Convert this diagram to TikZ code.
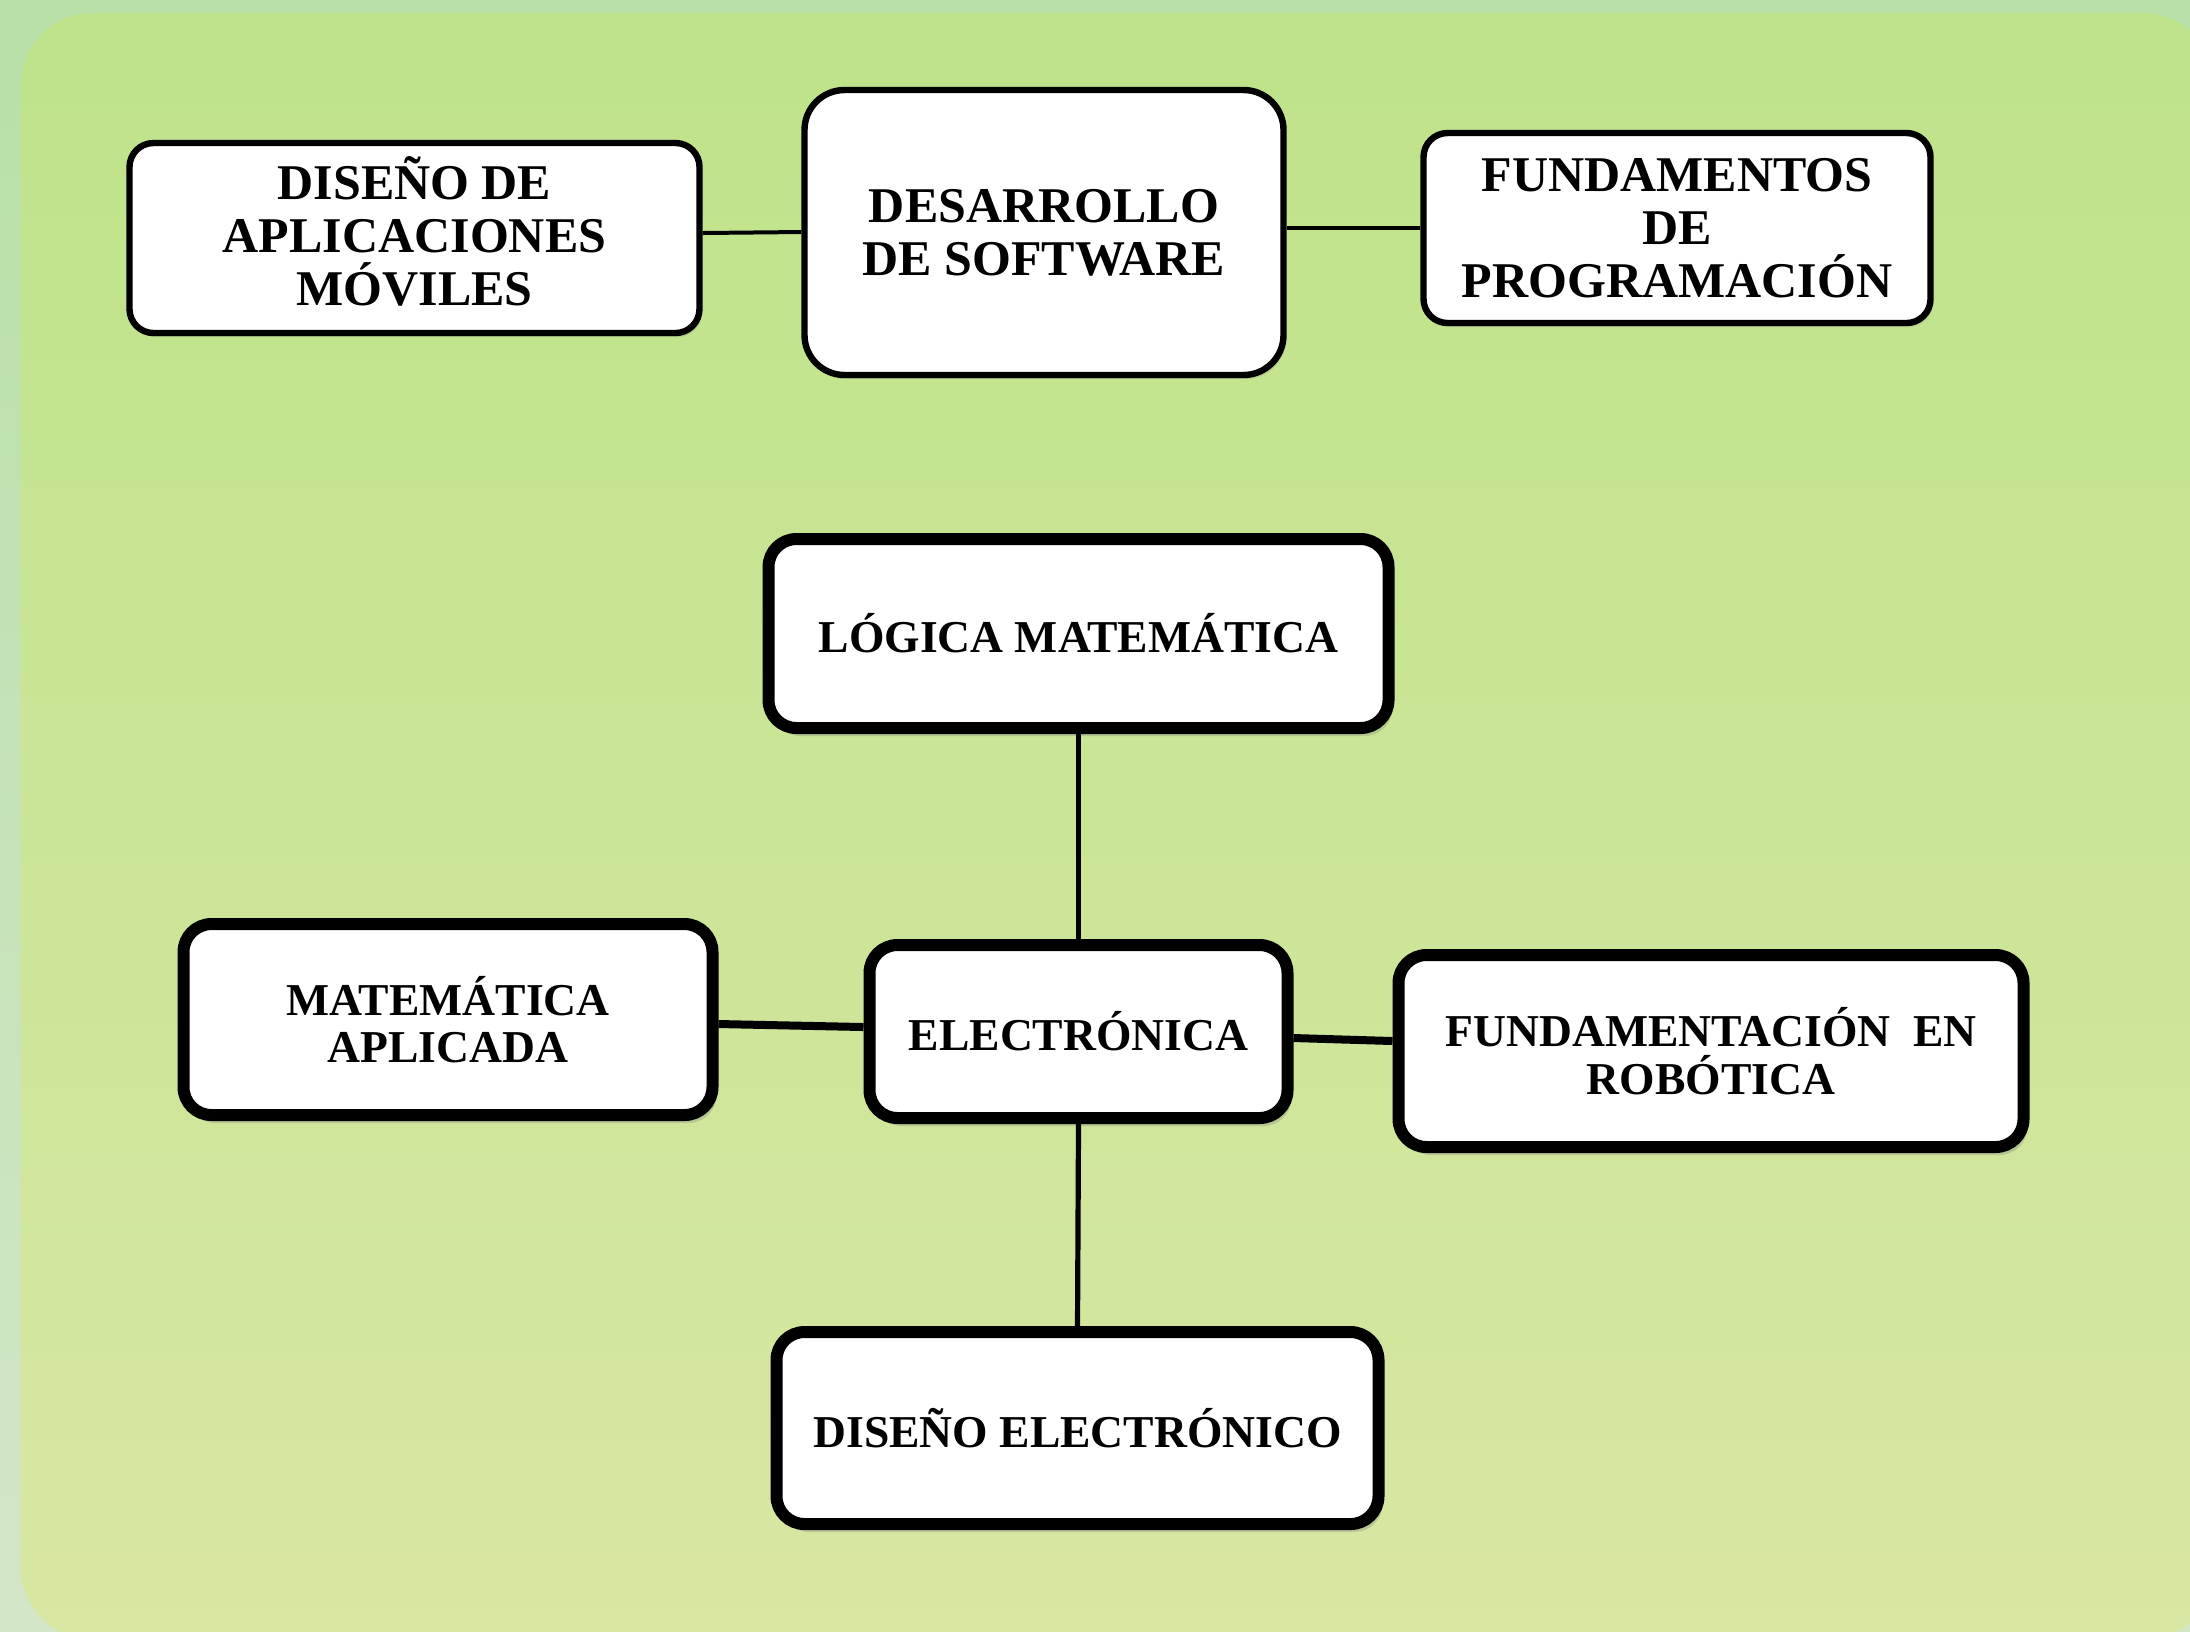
\documentclass[tikz,border=0pt]{standalone}
\usepackage{fontspec}
\setmainfont{Liberation Serif}
\usetikzlibrary{shadows,calc}
\definecolor{outertop}{HTML}{B8E0A8}
\definecolor{outerbot}{HTML}{D3E6C8}
\definecolor{innertop}{HTML}{BEE38A}
\definecolor{innerbot}{HTML}{D8E7A3}
\tikzset{
  topbox/.style={draw=black, fill=white, line width=1.6pt, rounded corners=6pt,
    inner sep=0pt, align=center, font=\fontsize{12.5}{13.3}\selectfont\bfseries,
    drop shadow={shadow xshift=0.6pt, shadow yshift=-1pt, opacity=0.25}},
  botbox/.style={draw=black, fill=white, line width=3pt, rounded corners=7pt,
    inner sep=0pt, align=center, font=\fontsize{11.4}{11.9}\selectfont\bfseries,
    drop shadow={shadow xshift=1pt, shadow yshift=-2pt, opacity=0.3}},
  link/.style={draw=black, line width=1pt},
}
\begin{document}
\begin{tikzpicture}[x=0.25pt, y=-0.25pt]
\useasboundingbox (0,0) rectangle (2190,1631);
\shade[top color=outertop, bottom color=outerbot] (0,0) rectangle (2190,1631);
\begin{scope}
\clip (0,0) rectangle (2190,1631);
\shade[top color=innertop, bottom color=innerbot, rounded corners=18pt] (21,13) rectangle (2215,1640);
\end{scope}

% top row
\node[topbox, text depth=3.4pt, minimum width=142.5pt, minimum height=47.5pt] (dam) at (414.5,238) {DISEÑO DE\\APLICACIONES\\MÓVILES};
\node[topbox, rounded corners=10pt, minimum width=119.75pt, minimum height=71.25pt] (ds) at (1044,232.5) {DESARROLLO\\DE SOFTWARE};
\node[topbox, minimum width=126.75pt, minimum height=47.5pt] (fp) at (1677,228) {FUNDAMENTOS\\DE\\PROGRAMACIÓN};

% bottom group
\node[botbox, minimum width=155pt, minimum height=47.25pt] (lm) at (1078.5,633.5) {LÓGICA MATEMÁTICA};
\node[botbox, minimum width=104.5pt, minimum height=43.25pt] (el) at (1078.5,1031.5) {ELECTRÓNICA};
\node[botbox, minimum width=132.25pt, minimum height=47.75pt] (ma) at (448,1019.5) {MATEMÁTICA\\APLICADA};
\node[botbox, minimum width=156.25pt, minimum height=48pt] (fr) at (1711,1051) {FUNDAMENTACIÓN\ \ EN\\ROBÓTICA};
\node[botbox, minimum width=150.5pt, minimum height=48pt] (de) at (1077.5,1428) {DISEÑO ELECTRÓNICO};

% connectors
\draw[link] (dam.east |- 0,233) -- (ds.west |- 0,232);
\draw[link] (ds.east |- 0,228) -- (fp.west |- 0,228);
\draw[link, line width=1.3pt] (lm.south) -- (el.north);
\draw[link, line width=1.3pt] (el.south) -- (de.north);
\draw[link, line width=2pt] (ma.east |- 0,1024) -- (el.west |- 0,1027);
\draw[link, line width=2pt] (el.east |- 0,1038) -- (fr.west |- 0,1041);
\end{tikzpicture}
\end{document}
